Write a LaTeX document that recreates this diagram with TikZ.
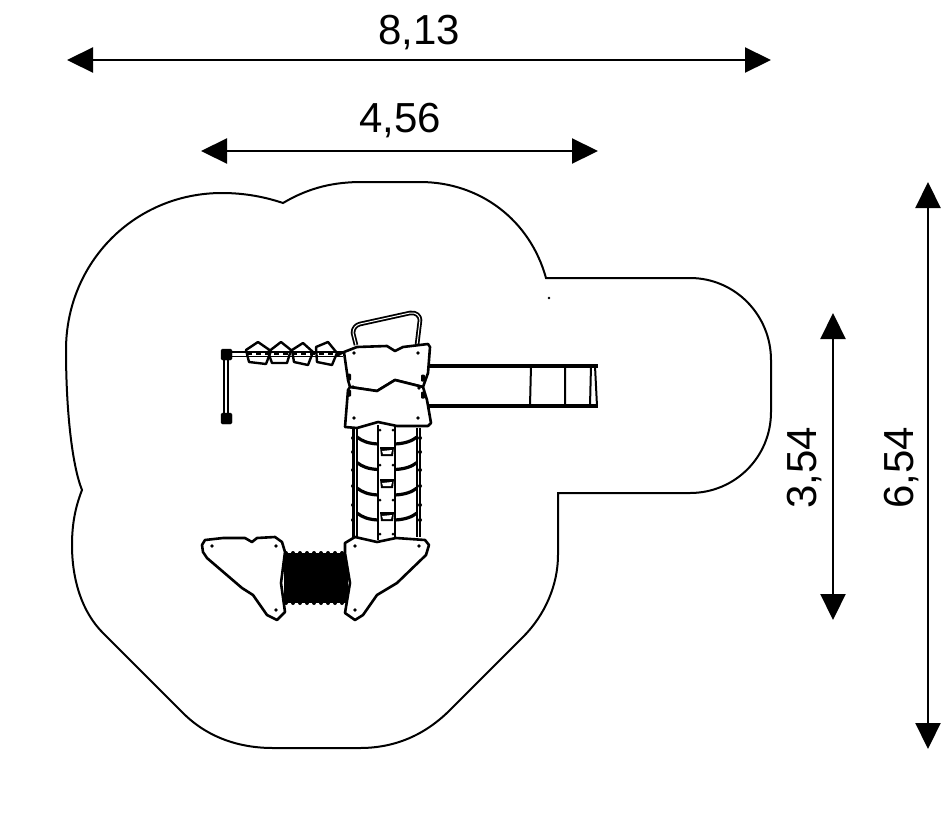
\documentclass[tikz,border=0pt]{standalone}
\usepackage{fontspec}
\setmainfont{Liberation Sans}
\usetikzlibrary{arrows.meta}
\tikzset{
    dimline/.style={draw=black, line width=2.2pt, {Triangle[length=26pt,width=25pt]}-{Triangle[length=26pt,width=25pt]}},
    dimlabel/.style={font=\fontsize{42}{42}\selectfont, inner sep=0pt},
    part/.style={draw=black, fill=white, line width=2.6pt, line join=round},
    pentagon/.style={draw=black, line width=2.4pt, line join=round},
    rung/.style={line width=3.2pt},
    rail/.style={line width=2.8pt},
}
\begin{document}
\begin{tikzpicture}[x=1pt,y=-1pt]
        \useasboundingbox (0,0) rectangle (946,828);
        % surface
        \draw [line width=2pt] (283,203) .. controls (310,187) and (335,182) .. (362,182)
            -- (420,182) .. controls (480,182) and (530,220) .. (546,278)
            -- (690,278) .. controls (735,278) and (771,315) .. (771,360)
            -- (771,412) .. controls (771,457) and (735,493) .. (690,493)
            -- (558,493) -- (558,555) .. controls (558,585) and (545,615) .. (523,637)
            -- (450,710) .. controls (425,735) and (395,748) .. (360,748)
            -- (273,748) .. controls (240,748) and (208,738) .. (183,713)
            -- (103,633) .. controls (82,612) and (72,580) .. (72,545)
            .. controls (72,525) and (75,508) .. (82,490)
            .. controls (72,465) and (66,410) .. (66,350)
            .. controls (66,262) and (135,193) .. (222,193)
            .. controls (245,193) and (265,197) .. (283,203) -- cycle;
        \fill (549,298) circle (1.3pt);
        % dimensions
        \coordinate (top left) at (67,60);
        \coordinate (top right) at (771,60);
        \coordinate (mid left) at (201,151);
        \coordinate (mid right) at (598,151);
        \coordinate (short top) at (833,313);
        \coordinate (short bottom) at (833,620);
        \coordinate (long top) at (928,182);
        \coordinate (long bottom) at (928,749);
        \draw [dimline] (top left) -- (top right);
        \draw [dimline] (mid left) -- (mid right);
        \draw [dimline] (short top) -- (short bottom);
        \draw [dimline] (long top) -- (long bottom);
        \node [dimlabel] (width label) at (419,33) {8,13};
        \node [dimlabel] (inner label) at (400,121) {4,56};
        \node [dimlabel, rotate=90] (short label) at (805,468) {3,54};
        \node [dimlabel, rotate=90] (long label) at (902,468) {6,54};
        % slide
        \draw [line width=3.2pt] (428,366) -- (598,366) (428,406) -- (598,406);
        \draw [line width=2pt] (531,366) -- (530,406) (565,366) -- (565,406) (591,366) -- (590,406) (595,366) -- (597,406);
        % ladder
        \draw [rail] (353.5,428) -- (353.5,537) (420,428) -- (420,537);
        \draw [line width=2pt] (357,428) -- (357,537) (417,428) -- (417,537);
        \draw [rail] (378,425) -- (378,540) (395,425) -- (395,540);
        \foreach \y in {437,462.5,488,513} {
            \draw [rung] (357,\y) .. controls (362,\y+4) and (368,\y+6.5) .. (378,\y+7);
            \draw [rung] (417,\y) .. controls (412,\y+4) and (405,\y+6.5) .. (395,\y+7);
        }
        \foreach \y in {452,484,517} {
            \fill (380,\y-5) -- (394,\y-5) -- (393,\y+4) -- (381,\y+4) -- cycle;
            \fill [white] (382,\y-1) -- (392,\y-2) -- (391,\y+2) -- (383,\y+2) -- cycle;
        }
        \foreach \y in {430,465,500,534} {
            \fill (380,\y) circle (1.5pt);
            \fill (393,\y) circle (1.5pt);
        }
        \foreach \y in {438,452,470,486,505,520} {
            \fill (353,\y) circle (2pt);
            \fill (420,\y) circle (2pt);
        }
        % tunnel
        \fill (284,553) -- (348,553) -- (348,603) -- (284,603) -- cycle;
        \foreach \x in {286,293,...,345} {
            \fill (\x,553) circle (2pt);
            \fill (\x,603) circle (2pt);
        }
        % panels
        \draw [part] (202,545) -- (205,540) -- (223,538) -- (245,538) -- (252,542) -- (257,538) -- (275,537) -- (282,542)
            -- (285,552) -- (281,583) -- (285,612) -- (277,620) -- (267,615) -- (253,595) -- (242,588) -- (207,558) -- (203,552) -- cycle;
        \draw [part] (345,543) -- (355,537) -- (377,542) -- (396,538) -- (425,540) -- (429,545) -- (426,555) -- (397,583) -- (377,595)
            -- (363,615) -- (355,620) -- (345,613) -- (350,583) -- (345,553) -- cycle;
        \foreach \p in {(212,546),(276,546),(276,610),(355,546),(419,546),(355,610)}
            \fill \p circle (1.8pt);
        % tower
        \draw [line width=4.6pt, line join=round] (356,345) -- (353,333) .. controls (353,328) and (356,325) .. (360,324)
            -- (410,313) .. controls (416,312) and (420,316) .. (420,320) -- (417,345);
        \draw [white, line width=1pt, line join=round] (356,345) -- (353,333) .. controls (353,328) and (356,325) .. (360,324)
            -- (410,313) .. controls (416,312) and (420,316) .. (420,320) -- (417,345);
        \draw [part] (344,352) -- (357,347) -- (387,346) -- (395,351) -- (403,347) -- (428,344) -- (430,347) -- (428,373) -- (423,387)
            -- (395,380) -- (377,391) -- (350,387) -- (348,380) -- cycle;
        \draw [part] (350,387) -- (377,391) -- (395,380) -- (423,387) -- (427,400) -- (431,423) -- (428,426) -- (397,426) -- (378,422) -- (357,428) -- (345,427) -- (348,390) -- cycle;
        \foreach \p in {(354,353),(418,353),(354,418),(418,418),(353,387),(419,388)}
            \fill \p circle (1.8pt);
        \foreach \p in {(349,377),(349,393),(423,378),(423,395)}
            \fill [rounded corners=1pt] \p +(-2,-3.5) rectangle +(2,3.5);
        % beam
        \draw [line width=1.8pt] (226,352) -- (343,352) (226,356.5) -- (343,356.5);
        \draw [line width=1.8pt] (224,355) -- (224,416) (228,355) -- (228,416);
        \draw [line width=2pt] (344,352) -- (337,356);
        \draw [fill=black, rounded corners=1.5pt] (221,349) rectangle (232,360);
        \draw [fill=black, rounded corners=1.5pt] (221,413) rectangle (232,424);
        \draw [pentagon] (258,342) -- (271,351) -- (266,364) -- (249,362) -- (246,350) -- cycle;
        \draw [pentagon] (281,342) -- (291,350) -- (287,363) -- (272,363) -- (268,352) -- cycle;
        \draw [pentagon] (303,343) -- (313,352) -- (308,365) -- (294,362) -- (292,350) -- cycle;
        \draw [pentagon] (328,342) -- (337,353) -- (332,365) -- (317,362) -- (316,347) -- cycle;
        \draw [line width=2.6pt, dash pattern=on 5pt off 4pt] (247,354) -- (340,354);
\end{tikzpicture}
\end{document}
